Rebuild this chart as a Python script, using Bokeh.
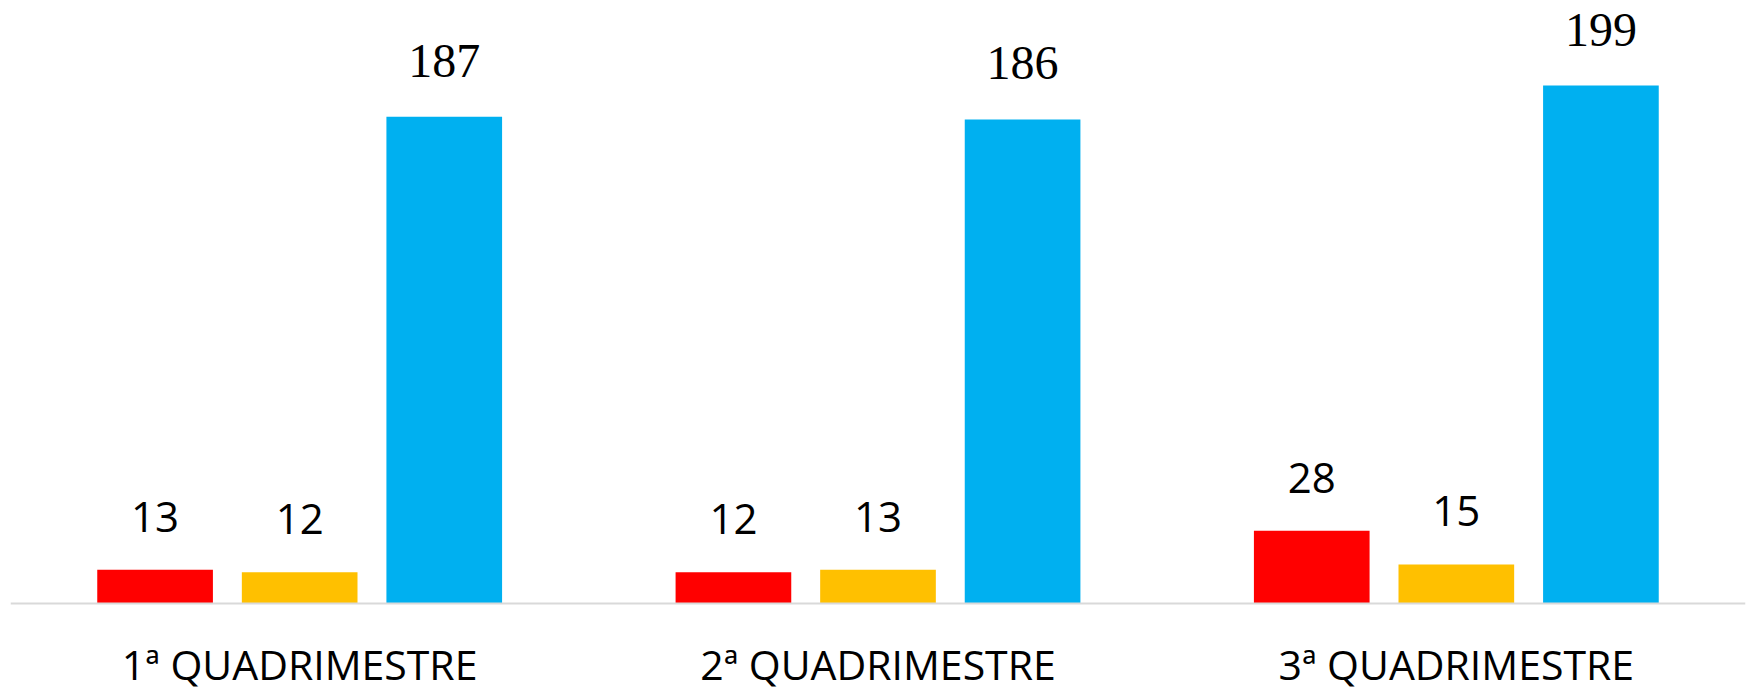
from bokeh.plotting import figure
from bokeh.models import ColumnDataSource, FactorRange, Range1d, Span
from bokeh.transform import dodge
from bokeh.core.properties import value
from bokeh.embed import file_html
from bokeh.resources import INLINE

categories = ["1ª QUADRIMESTRE", "2ª QUADRIMESTRE", "3ª QUADRIMESTRE"]
red_vals = [13, 12, 28]
yellow_vals = [12, 13, 15]
blue_vals = [187, 186, 199]

src = ColumnDataSource(dict(
    cat=categories,
    red=red_vals, yellow=yellow_vals, blue=blue_vals,
    red_t=[str(v) for v in red_vals],
    yellow_t=[str(v) for v in yellow_vals],
    blue_t=[str(v) for v in blue_vals],
))

# 603 px of frame above the baseline, 88 px below it (2.603 px per unit)
p = figure(x_range=FactorRange(*categories), y_range=Range1d(-33.8, 231.7),
           width=1750, height=691, output_backend="svg", toolbar_location=None,
           x_axis_location=None, y_axis_location=None,
           min_border_left=10, min_border_right=5, min_border_top=0, min_border_bottom=0)
p.outline_line_color = None
p.xgrid.visible = False
p.ygrid.visible = False

# baseline (category axis line)
p.add_layout(Span(location=0, dimension="width", line_color="#d9d9d9", line_width=2))

series = [("red", "#FF0000", -0.25), ("yellow", "#FFC000", 0.0), ("blue", "#00B0F0", 0.25)]
for name, color, off in series:
    p.vbar(x=dodge("cat", off, range=p.x_range), top=name, width=0.2, bottom=0,
           source=src, fill_color=color, line_color=None)

for name, color, off in series:
    if name == "blue":
        font, size, yo = "Liberation Serif", "48px", -56
    else:
        font, size, yo = "Open Sans", "42px", -53
    p.text(x=dodge("cat", off, range=p.x_range), y=name, text=name + "_t", source=src,
           text_align="center", text_baseline="alphabetic", y_offset=yo,
           text_font=value(font), text_font_size=size, text_color="#000000")

# category labels under the baseline
p.text(x="cat", y=0, text="cat", source=src, text_align="center",
       text_baseline="alphabetic", y_offset=60,
       text_font=value("Open Sans"), text_font_size="41px", text_color="#000000")

open("out.html", "w").write(file_html(p, INLINE))
